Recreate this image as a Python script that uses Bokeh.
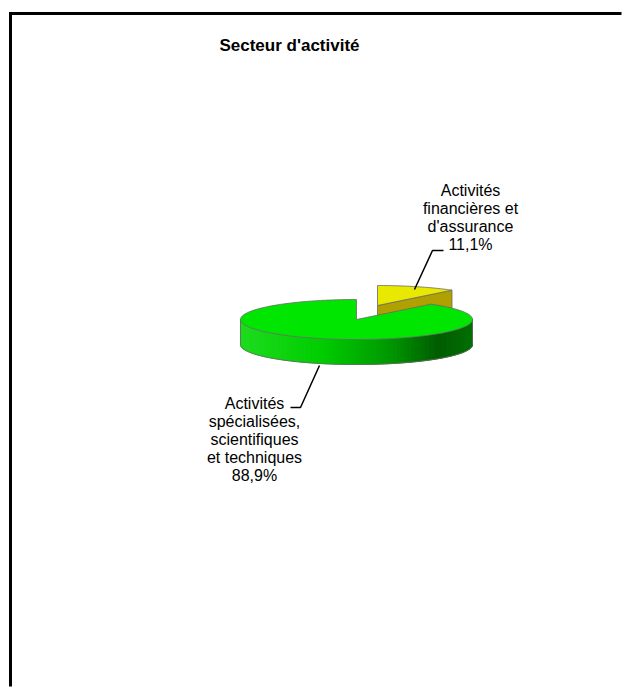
import math
from bokeh.plotting import figure
from bokeh.models import Range1d
from bokeh.core.properties import value
from bokeh.embed import file_html
from bokeh.resources import INLINE

# ---- data ----
title_text = "Secteur d'activité"
categories = ["Activités financières et d'assurance",
              "Activités spécialisées, scientifiques et techniques"]
shares = [11.1, 88.9]
share_labels = ["11,1%", "88,9%"]
label_lines = [["Activités", "financières et", "d'assurance"],
               ["Activités", "spécialisées,", "scientifiques", "et techniques"]]

# ---- style / layout ----
W, H = 622, 687
FONT = "Liberation Sans"
top_colors = ["#e8e800", "#00e600"]
side_colors = ["#b0a000", None]
edge = "#6a6a6a"

cx, cy = 356, 319
rx, ry = 116, 20
depth = 25
explode = [(21, -14), (0, 0)]

p = figure(width=W, height=H, output_backend="svg", toolbar_location=None,
           x_range=Range1d(0, W), y_range=Range1d(H, 0),
           x_axis_location=None, y_axis_location=None, min_border=0)
p.grid.visible = False
p.outline_line_color = None
p.background_fill_color = "white"
p.border_fill_color = "white"

# frame (left + top edges visible)
p.line([10, 10, W - 1], [H - 1, 13, 13], line_color="black", line_width=3,
       line_join="miter", line_cap="butt")

def pt(a, ox, oy, z=0.0):
    t = math.radians(a)
    return cx + ox + rx * math.sin(t), cy + oy - ry * math.cos(t) + z

def lerp_col(f):
    stops = [(0.0, (30, 220, 30)), (0.35, (0, 205, 0)), (0.65, (0, 150, 0)),
             (0.85, (0, 92, 0)), (1.0, (0, 112, 0))]
    for (f0, c0), (f1, c1) in zip(stops, stops[1:]):
        if f <= f1:
            u = (f - f0) / (f1 - f0) if f1 > f0 else 0
            return "#%02x%02x%02x" % tuple(int(c0[i] + (c1[i] - c0[i]) * u) for i in range(3))
    return "#%02x%02x%02x" % stops[-1][1]

# slice angles (clockwise from 12 o'clock)
total = sum(shares)
bounds = []
acc = 0.0
for s in shares:
    a0 = acc / total * 360
    acc += s
    bounds.append((a0, acc / total * 360))

# ---- yellow slice (behind) ----
a0, a1 = bounds[0]
ox, oy = explode[0]
c_top = (cx + ox, cy + oy)
e_top = pt(a1, ox, oy)
e_bot = pt(a1, ox, oy, depth)
c_bot = (c_top[0], c_top[1] + depth)
p.patch([c_top[0], e_top[0], e_bot[0], c_bot[0]],
        [c_top[1], e_top[1], e_bot[1], c_bot[1]],
        fill_color=side_colors[0], line_color=edge, line_width=0.8)
n = 40
xs = [c_top[0]] + [pt(a0 + (a1 - a0) * i / n, ox, oy)[0] for i in range(n + 1)]
ys = [c_top[1]] + [pt(a0 + (a1 - a0) * i / n, ox, oy)[1] for i in range(n + 1)]
p.patch(xs, ys, fill_color=top_colors[0], line_color=edge, line_width=0.8)

# ---- green slice ----
a0, a1 = bounds[1]
ox, oy = explode[1]
w0, w1 = max(a0, 90), min(a1, 270)
m = 90
qx, qy, qc = [], [], []
for i in range(m):
    t0 = w0 + (w1 - w0) * i / m
    t1 = w0 + (w1 - w0) * (i + 1) / m
    p0, p1 = pt(t0, ox, oy), pt(t1, ox, oy)
    b0, b1 = pt(t0, ox, oy, depth), pt(t1, ox, oy, depth)
    qx.append([p0[0], p1[0], b1[0], b0[0]])
    qy.append([p0[1], p1[1], b1[1], b0[1]])
    f = ((p0[0] + p1[0]) / 2 - (cx - rx)) / (2 * rx)
    qc.append(lerp_col(f))
p.patches(qx, qy, fill_color=qc, line_color=qc, line_width=1.0)
bx = [pt(w0 + (w1 - w0) * i / m, ox, oy, depth)[0] for i in range(m + 1)]
by = [pt(w0 + (w1 - w0) * i / m, ox, oy, depth)[1] for i in range(m + 1)]
p.line(bx, by, line_color=edge, line_width=0.8)
for a in (w0, w1):
    t, b = pt(a, ox, oy), pt(a, ox, oy, depth)
    p.line([t[0], b[0]], [t[1], b[1]], line_color=edge, line_width=0.8)

n = 160
xs = [cx + ox] + [pt(a0 + (a1 - a0) * i / n, ox, oy)[0] for i in range(n + 1)]
ys = [cy + oy] + [pt(a0 + (a1 - a0) * i / n, ox, oy)[1] for i in range(n + 1)]
p.patch(xs, ys, fill_color=top_colors[1], line_color=edge, line_width=0.8)

# ---- leader lines ----
p.line([443, 432, 414], [250, 250, 289], line_color="black", line_width=1.5)
p.line([319, 300, 290], [365, 407, 407], line_color="black", line_width=1.5)

# ---- labels ----
label_pos = [(470, 190), (254, 403)]
lh = 18
for lines, pct, (lx, ly) in zip(label_lines, share_labels, label_pos):
    rows = lines + [pct]
    p.text(x=[lx] * len(rows), y=[ly + i * lh for i in range(len(rows))], text=rows,
           text_font=value(FONT), text_font_size="16px", text_color="black",
           text_align="center", text_baseline="middle")

p.text(x=[289], y=[45], text=[title_text], text_font=value(FONT),
       text_font_size="17px", text_font_style="bold", text_color="black",
       text_align="center", text_baseline="middle")

open("out.html", "w").write(file_html(p, INLINE))
